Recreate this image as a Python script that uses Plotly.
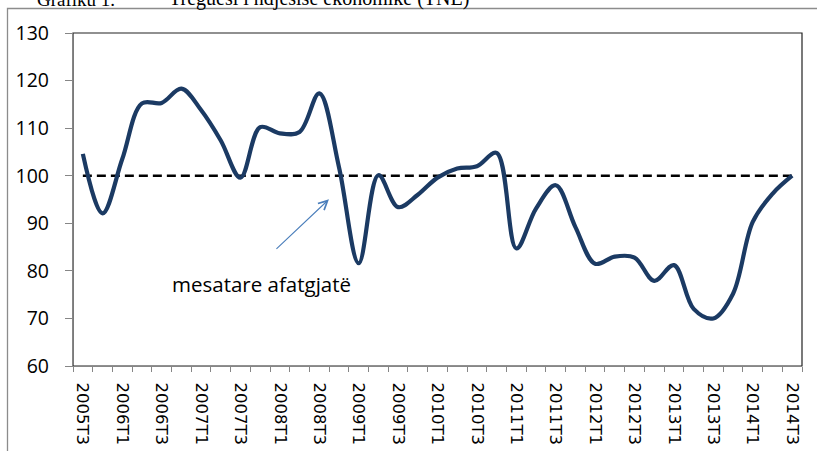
import plotly.graph_objects as go

quarters = ["2005T3", "2005T4", "2006T1", "2006T2", "2006T3", "2006T4", "2007T1", "2007T2",
            "2007T3", "2007T4", "2008T1", "2008T2", "2008T3", "2008T4", "2009T1", "2009T2",
            "2009T3", "2009T4", "2010T1", "2010T2", "2010T3", "2010T4", "2011T1", "2011T2",
            "2011T3", "2011T4", "2012T1", "2012T2", "2012T3", "2012T4", "2013T1", "2013T2",
            "2013T3", "2013T4", "2014T1", "2014T2", "2014T3"]
tne = [104.6, 92.1, 103.5, 115.2, 115.3, 118.3, 113.8, 107.4, 99.6, 110.2, 108.9, 109.2,
       117.3, 101.8, 81.6, 100.1, 93.4, 96.0, 99.6, 101.5, 102.0, 104.8, 84.7, 93.1,
       98.0, 89.2, 81.5, 83.0, 82.8, 77.9, 81.2, 72.0, 70.0, 75.2, 90.3, 96.2, 100.0]
long_run_avg = [100] * len(quarters)
y_ticks = [60, 70, 80, 90, 100, 110, 120, 130]

xi = list(range(len(quarters)))
label_idx = xi[::2]

fig = go.Figure()
fig.add_trace(go.Scatter(x=xi, y=long_run_avg, mode="lines",
                         line=dict(color="#000000", width=2.5, dash="9px,5px"),
                         hoverinfo="skip", showlegend=False))
fig.add_trace(go.Scatter(x=xi, y=tne, mode="lines",
                         line=dict(color="#1B3A63", width=4.2, shape="spline", smoothing=1.0),
                         showlegend=False))

PL, PT, PW, PH = 73, 33, 729, 333


def px_x(p):
    return (p - PL) / PW


def px_y(p):
    return (PT + PH - p) / PH


title_y = px_y(11.5)

fig.update_layout(
    width=817, height=451,
    margin=dict(l=73, r=15, t=33, b=85, autoexpand=False),
    paper_bgcolor="white", plot_bgcolor="white",
    shapes=[
        dict(type="rect", xref="paper", yref="paper", x0=0, x1=1, y0=0, y1=1,
             line=dict(color="#222222", width=1.2), layer="below"),
        dict(type="rect", xref="paper", yref="paper", x0=px_x(7.5), x1=px_x(840),
             y0=px_y(470), y1=px_y(8.5), fillcolor="rgba(0,0,0,0)",
             line=dict(color="#8c8c8c", width=1.3), layer="above"),
    ],
    annotations=[
        dict(text="mesatare afatgjatë", x=9.07, y=77.2, xref="x", yref="y", showarrow=False,
             font=dict(family="Open Sans", size=20.5, color="#000000")),
        dict(text="", x=12.49, y=95.04, xref="x", yref="y", ax=-54, ay=51,
             showarrow=True, arrowhead=5, arrowsize=1.6, arrowwidth=1.1, arrowcolor="#4A7EBB"),
        dict(text="Grafiku 1.", x=px_x(35), y=title_y, xref="paper", yref="paper",
             xanchor="left", yanchor="bottom", showarrow=False,
             font=dict(family="Liberation Serif", size=19, color="#000000")),
        dict(text="Treguesi i ndjesisë ekonomike (TNE)", x=px_x(167), y=title_y,
             xref="paper", yref="paper", xanchor="left", yanchor="bottom", showarrow=False,
             font=dict(family="Liberation Serif", size=20, color="#000000")),
    ],
)

fig.update_xaxes(
    range=[-0.5, len(quarters) - 0.5], automargin=False,
    tickmode="array", tickvals=label_idx, ticktext=[quarters[i] for i in label_idx],
    tickangle=90, ticks="", ticklabelstandoff=12,
    tickfont=dict(family="DejaVu Sans", size=16.5, color="#000000"),
    minor=dict(tick0=-0.5, dtick=1, ticks="outside", ticklen=5, tickcolor="#868686", tickwidth=1),
    showline=True, linecolor="#868686", linewidth=1.2,
    showgrid=False, zeroline=False,
)
fig.update_yaxes(
    range=[60, 130], tickmode="array", tickvals=y_ticks, automargin=False,
    ticks="outside", ticklen=7, tickcolor="#868686", tickwidth=1,
    ticklabelstandoff=12,
    tickfont=dict(family="Open Sans", size=19.5, color="#000000"),
    showline=True, linecolor="#868686", linewidth=1.2,
    showgrid=False, zeroline=False,
)

fig.write_html("out.html", config={"displayModeBar": False},
               post_script="document.body.style.margin='0';")
